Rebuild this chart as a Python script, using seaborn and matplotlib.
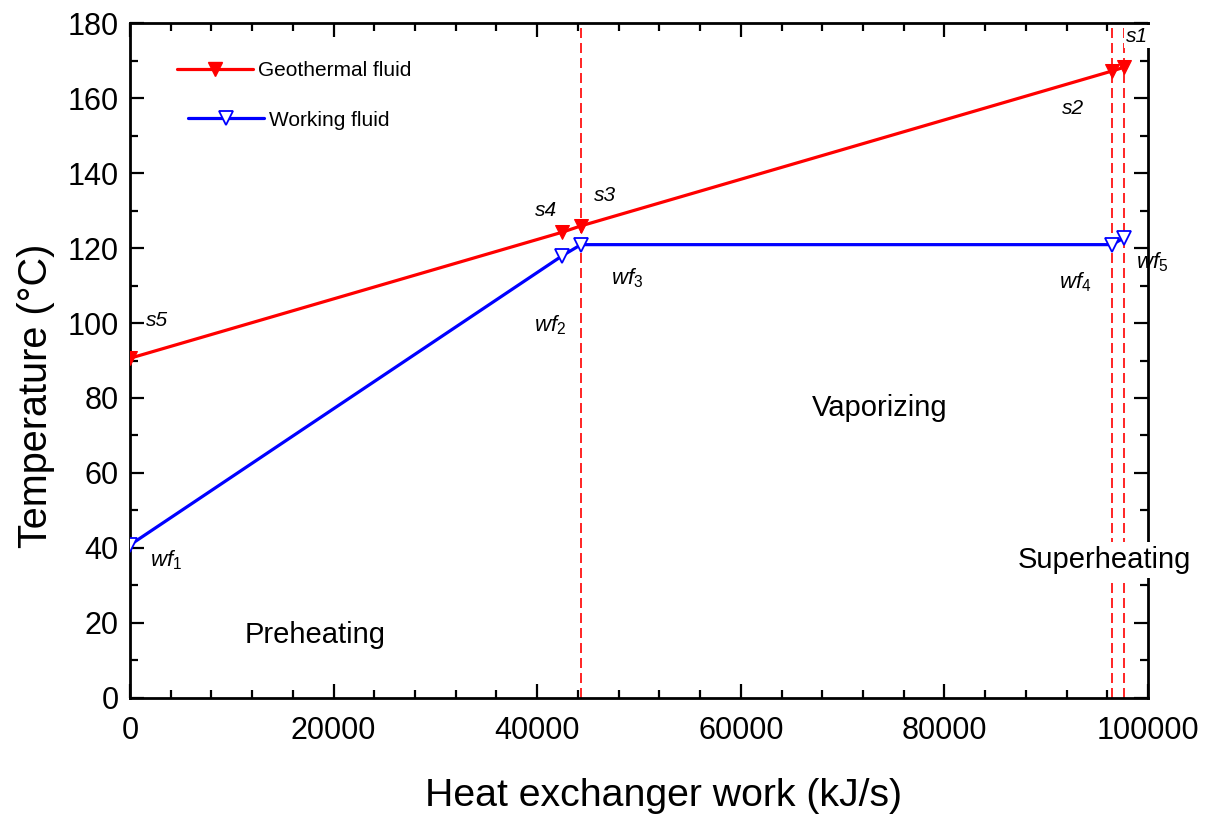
import matplotlib
matplotlib.use("Agg")
import matplotlib.pyplot as plt
from matplotlib.ticker import MultipleLocator
from matplotlib.lines import Line2D
import pandas as pd
import seaborn as sns

# State points along the evaporator (heat load in kJ/s, temperature in °C)
geo_labels = ["s5", "s4", "s3", "s2", "s1"]
geo_q = [0, 42440, 44300, 96460, 97640]
geo_t = [90.6, 124.2, 125.9, 167.2, 168.2]

wf_labels = ["wf1", "wf2", "wf3", "wf4", "wf5"]
wf_q = [0, 42440, 44300, 96460, 97640]
wf_t = [40.8, 117.9, 120.9, 120.9, 122.7]

# Zone boundaries (pinch / saturation points)
boundary_q = [44300, 96460, 97640]

zone_names = ["Preheating", "Vaporizing", "Superheating"]

sns.set_style("ticks")
plt.rcParams["font.family"] = ["Liberation Sans", "DejaVu Sans"]
plt.rcParams["mathtext.fontset"] = "custom"
plt.rcParams["mathtext.it"] = "Liberation Sans:italic"
plt.rcParams["mathtext.rm"] = "Liberation Sans"
for key in ["text.color", "axes.labelcolor", "xtick.color", "ytick.color",
            "axes.edgecolor"]:
    plt.rcParams[key] = "black"

geo_df = pd.DataFrame({"q": geo_q, "t": geo_t})
wf_df = pd.DataFrame({"q": wf_q, "t": wf_t})

fig = plt.figure(figsize=(12.1, 8.17), dpi=100)
ax = fig.add_axes([0.1074, 0.1457, 0.8414, 0.8261])

red = "#ff0000"
blue = "#0000ff"

for q in boundary_q:
    ax.axvline(q, color=red, lw=1.2, ls=(0, (6, 3)), zorder=1)

sns.lineplot(data=geo_df, x="q", y="t", ax=ax, sort=False, color=red, lw=2.3,
             marker="v", markersize=10.5, markerfacecolor=red, markeredgecolor=red,
             zorder=3)
sns.lineplot(data=wf_df, x="q", y="t", ax=ax, sort=False, color=blue, lw=2.3,
             marker="v", markersize=10.5, markerfacecolor="white",
             markeredgecolor=blue, markeredgewidth=1.3, zorder=3)

ax.set_xlim(0, 100000)
ax.set_ylim(0, 180)
ax.xaxis.set_major_locator(MultipleLocator(20000))
ax.xaxis.set_minor_locator(MultipleLocator(4000))
ax.yaxis.set_major_locator(MultipleLocator(20))
ax.yaxis.set_minor_locator(MultipleLocator(10))
ax.tick_params(which="both", direction="in", top=True, right=True, width=1.6,
               color="black", labelcolor="black")
ax.tick_params(which="major", length=10, labelsize=22)
ax.tick_params(axis="x", which="major", pad=13)
ax.tick_params(axis="y", which="major", pad=8)
ax.tick_params(which="minor", length=6)
for s in ax.spines.values():
    s.set_linewidth(2.0)
    s.set_color("black")

ax.set_xlabel("Heat exchanger work (kJ/s)", fontsize=28.3, labelpad=23)
ax.set_ylabel("Temperature (°C)", fontsize=28.5, labelpad=9)
ax.xaxis.label.set_x(0.5236)
ax.yaxis.label.set_y(0.447)

# Point annotations
lab_kw = dict(fontsize=15, style="italic", ha="center", va="center", zorder=6,
              clip_on=False)
geo_pos = [(2650, 100.8), (40860, 130.1), (46660, 134.1), (92630, 157.3)]
for lab, (x, y) in zip(geo_labels[:4], geo_pos):
    ax.text(x, y, lab, **lab_kw)
ax.text(97850, 176.3, geo_labels[4], fontsize=15, style="italic", ha="left",
        va="center", zorder=6, clip_on=False,
        bbox=dict(boxstyle="square,pad=0.1", fc="white", ec="none"))

wf_pos = [(3540, 36.8), (41260, 99.5), (48820, 112.0), (92830, 110.9),
          (100390, 116.3)]
for lab, (x, y) in zip(wf_labels, wf_pos):
    ax.text(x, y, r"$" + lab[:2] + "_{" + lab[2:] + "}$", fontsize=16,
            ha="center", va="center", zorder=6, clip_on=False)

# Zone labels
ax.text(18170, 16.8, zone_names[0], fontsize=21, ha="center", va="center")
ax.text(73670, 77.3, zone_names[1], fontsize=21, ha="center", va="center")
ax.text(95680, 36.8, zone_names[2], fontsize=21, ha="center", va="center",
        zorder=6, clip_on=False,
        bbox=dict(boxstyle="square,pad=0.15", fc="white", ec="none"))

# Legend entries, one per row
geo_h = Line2D([], [], color=red, lw=2.3, marker="v", markersize=10.5,
               markerfacecolor=red, markeredgecolor=red)
wf_h = Line2D([], [], color=blue, lw=2.3, marker="v", markersize=10.5,
              markerfacecolor="white", markeredgecolor=blue, markeredgewidth=1.3)
leg_kw = dict(frameon=False, fontsize=15, handlelength=3.65, handletextpad=0.25,
              borderpad=0, borderaxespad=0, loc="center left",
              bbox_transform=fig.transFigure)
leg1 = ax.legend([geo_h], ["Geothermal fluid"],
                 bbox_to_anchor=(177 / 1210, 1 - 71 / 817), **leg_kw)
ax.add_artist(leg1)
ax.legend([wf_h], ["Working fluid"],
          bbox_to_anchor=(188 / 1210, 1 - 120 / 817), **leg_kw)

fig.savefig("out.png", dpi=100)
